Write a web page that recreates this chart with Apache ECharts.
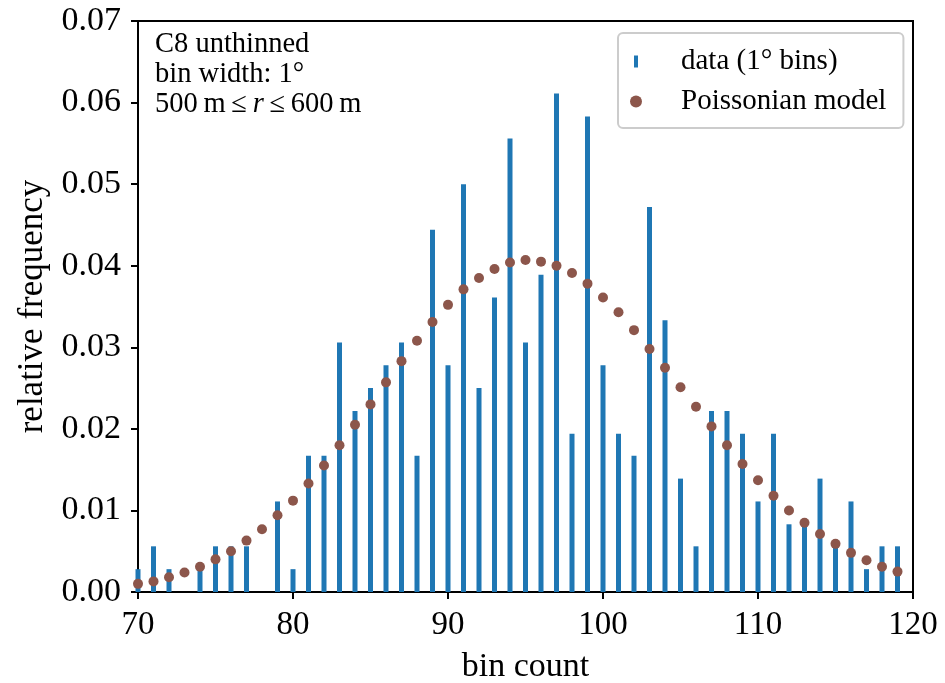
<!DOCTYPE html>
<html>
<head>
<meta charset="utf-8">
<script src="https://cdn.jsdelivr.net/npm/echarts@6/dist/echarts.min.js"></script>
<style>
  html, body { margin: 0; padding: 0; background: #fff; }
  #chart { width: 945px; height: 683px; }
</style>
</head>
<body>
<div id="chart"></div>
<script>
'use strict';
// bin counts 70..119
var bins = [70, 71, 72, 73, 74, 75, 76, 77, 78, 79,
            80, 81, 82, 83, 84, 85, 86, 87, 88, 89,
            90, 91, 92, 93, 94, 95, 96, 97, 98, 99,
            100, 101, 102, 103, 104, 105, 106, 107, 108, 109,
            110, 111, 112, 113, 114, 115, 116, 117, 118, 119];
// observed relative frequency (1 deg bins)
var dataFreq = [0.0028, 0.0056, 0.0028, 0.0000, 0.0028, 0.0056, 0.0056, 0.0056, 0.0000, 0.0111,
                0.0028, 0.0167, 0.0167, 0.0306, 0.0222, 0.0250, 0.0278, 0.0306, 0.0167, 0.0444,
                0.0278, 0.0500, 0.0250, 0.0361, 0.0556, 0.0306, 0.0389, 0.0611, 0.0194, 0.0583,
                0.0278, 0.0194, 0.0167, 0.0472, 0.0333, 0.0139, 0.0056, 0.0222, 0.0222, 0.0194,
                0.0111, 0.0194, 0.0083, 0.0083, 0.0139, 0.0056, 0.0111, 0.0028, 0.0056, 0.0056];
// poissonian model
var modelFreq = [0.0010, 0.0013, 0.0018, 0.0024, 0.0031, 0.0040, 0.0050, 0.0063, 0.0077, 0.0094,
                 0.0112, 0.0133, 0.0155, 0.0180, 0.0205, 0.0230, 0.0257, 0.0283, 0.0308, 0.0331,
                 0.0352, 0.0371, 0.0385, 0.0396, 0.0404, 0.0407, 0.0405, 0.0400, 0.0391, 0.0378,
                 0.0361, 0.0343, 0.0321, 0.0298, 0.0275, 0.0251, 0.0227, 0.0203, 0.0180, 0.0157,
                 0.0137, 0.0118, 0.0100, 0.0085, 0.0071, 0.0059, 0.0048, 0.0039, 0.0031, 0.0025];

var FONT = '"Liberation Serif", "Times New Roman", serif';

var chart = echarts.init(document.getElementById('chart'));

function pairs(xs, ys) {
  return xs.map(function (x, i) { return [x, ys[i]]; });
}

chart.setOption({
  animation: false,
  grid: {
    left: 138, right: 32, top: 21, bottom: 91,
    outerBoundsMode: 'none',
    show: true, borderColor: '#000', borderWidth: 2
  },
  legend: {
    orient: 'vertical',
    left: 618, top: 33,
    padding: [14, 17, 12, 12],
    itemGap: 11,
    itemWidth: 22, itemHeight: 12,
    borderColor: '#cccccc', borderWidth: 2, borderRadius: 5,
    backgroundColor: 'rgba(255,255,255,0.8)',
    textStyle: { fontFamily: FONT, fontSize: 29, color: '#000', padding: [0, 0, 0, 29] },
    data: [
      { name: 'data (1° bins)', icon: 'path://M0,0 L4,0 L4,12 L0,12 Z' },
      { name: 'Poissonian model', icon: 'circle' }
    ]
  },
  graphic: [{
    type: 'text',
    left: 155, top: 30,
    style: {
      text: 'C8 unthinned\nbin width: 1°\n{a|500\u2009m\u2009≤\u2009}{i|r}{a|\u2009≤\u2009600\u2009m}',
      font: '28.5px ' + FONT,
      fill: '#000',
      lineHeight: 30,
      rich: {
        a: { fontFamily: FONT, fontSize: 28.5, lineHeight: 30 },
        i: { fontFamily: FONT, fontSize: 28.5, lineHeight: 30, fontStyle: 'italic' }
      }
    },
    z: 100
  }],
  xAxis: {
    type: 'value',
    min: 70, max: 120, interval: 10,
    name: 'bin count',
    nameLocation: 'middle',
    nameGap: 58,
    nameTextStyle: { fontFamily: FONT, fontSize: 34, color: '#000' },
    axisLine: { onZero: false, lineStyle: { color: '#000', width: 2 } },
    axisTick: { length: 7, lineStyle: { color: '#000', width: 2 } },
    axisLabel: { fontFamily: FONT, fontSize: 33, color: '#000', margin: 17 },
    splitLine: { show: false }
  },
  yAxis: {
    type: 'value',
    min: 0, max: 0.07, interval: 0.01,
    name: 'relative frequency',
    nameLocation: 'middle',
    nameGap: 88,
    nameTextStyle: { fontFamily: FONT, fontSize: 35, color: '#000' },
    axisLine: { lineStyle: { color: '#000', width: 2 } },
    axisTick: { length: 7, lineStyle: { color: '#000', width: 2 } },
    axisLabel: {
      fontFamily: FONT, fontSize: 34, color: '#000', margin: 17,
      formatter: function (v) { return v.toFixed(2); }
    },
    splitLine: { show: false }
  },
  series: [
    {
      name: 'data (1° bins)',
      type: 'bar',
      barWidth: 5,
      itemStyle: { color: '#1f77b4' },
      data: pairs(bins, dataFreq),
      z: 2
    },
    {
      name: 'Poissonian model',
      type: 'scatter',
      symbol: 'circle',
      symbolSize: 10,
      itemStyle: { color: '#8c564b', opacity: 1 },
      data: pairs(bins, modelFreq),
      z: 3
    }
  ]
});
</script>
</body>
</html>
